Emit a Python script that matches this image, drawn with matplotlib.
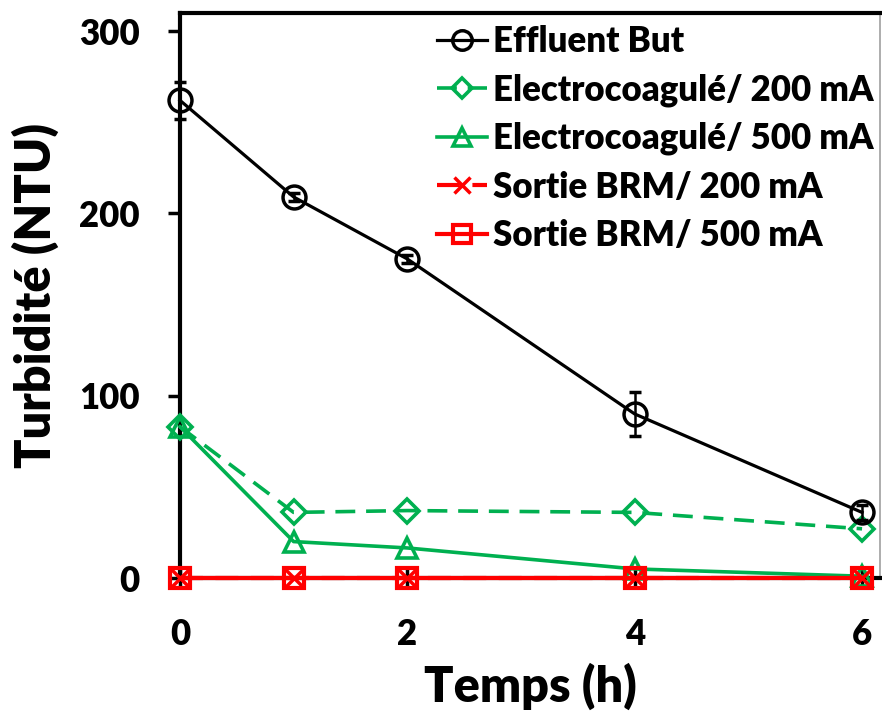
import matplotlib
matplotlib.use("Agg")
import matplotlib.pyplot as plt
from matplotlib.lines import Line2D

plt.rcParams['font.family'] = ['Lato', 'DejaVu Sans']
plt.rcParams['font.weight'] = 'heavy'

temps = [0, 1, 2, 4, 6]
effluent = [262, 209, 175, 90, 36]
effluent_err = [10, 2, 2, 12, 4]
ec200 = [83, 36, 37, 36, 27]
ec500 = [83, 20, 16.5, 5, 1]
brm200 = [0, 0, 0, 0, 0]
brm500 = [0, 0, 0, 0, 0]
labels = ['Effluent But', 'Electrocoagulé/ 200 mA', 'Electrocoagulé/ 500 mA',
          'Sortie BRM/ 200 mA', 'Sortie BRM/ 500 mA']

green = '#00B050'
red = '#FF0000'

fig = plt.figure(figsize=(8.82, 7.11), dpi=100)
ax = fig.add_axes([0.204, 0.187, 0.794, 0.795])

s_eff = dict(color='black', lw=2.3, marker='o', ms=16.5, mfc='none', mew=2.5)
s_200 = dict(color=green, lw=2.6, ls=(0, (5.5, 3)), marker='D', ms=12, mfc='none', mew=2.6)
s_500 = dict(color=green, lw=2.6, marker='^', ms=15, mfc='none', mew=2.6)
s_b200 = dict(color=red, lw=3, ls=(0, (5.5, 3)), marker='x', ms=13, mew=2.5)
s_b500 = dict(color=red, lw=3, marker='s', ms=15, mfc='none', mew=3)

ax.errorbar(temps, effluent, yerr=effluent_err, capsize=4, elinewidth=1.8, capthick=1.8,
            clip_on=False, zorder=5, **s_eff)
ax.plot(temps, ec200, clip_on=False, zorder=4, **s_200)
ax.plot(temps, ec500, clip_on=False, zorder=4, **s_500)
ax.plot(temps, brm200, clip_on=False, zorder=6, **s_b200)
ax.plot(temps, brm500, clip_on=False, zorder=6, **s_b500)

ax.set_xlim(0, 6.16)
ax.set_ylim(0, 310)
ax.set_xticks([0, 2, 4, 6])
ax.set_yticks([0, 100, 200, 300])
ax.tick_params(axis='both', labelsize=25, width=2.5)
ax.tick_params(axis='x', direction='inout', length=14, pad=22)
ax.tick_params(axis='y', direction='out', length=9, pad=20)
for lab in ax.get_xticklabels() + ax.get_yticklabels():
    lab.set_fontweight('heavy')

for side in ['left', 'bottom', 'top']:
    ax.spines[side].set_linewidth(3)
ax.spines['right'].set_linewidth(1.2)
ax.spines['right'].set_color('#A0A0A0')

ax.set_xlabel('Temps (h)', fontsize=35, fontweight='heavy', labelpad=8)
ax.set_ylabel('Turbidité (NTU)', fontsize=35, fontweight='heavy', labelpad=14)

styles = [s_eff, s_200, s_500, s_b200, s_b500]
handles = []
for st in styles:
    st2 = dict(st)
    st2['ms'] = st['ms'] * 0.85
    handles.append(Line2D([], [], **st2))
leg = ax.legend(handles, labels, loc='upper right', frameon=False, fontsize=25,
                handlelength=1.45, handletextpad=0.15, labelspacing=0.44, borderaxespad=0.0,
                borderpad=0.1, bbox_to_anchor=(0.995, 0.985))
for t in leg.get_texts():
    t.set_fontweight('heavy')

fig.savefig('out.png', dpi=100)
